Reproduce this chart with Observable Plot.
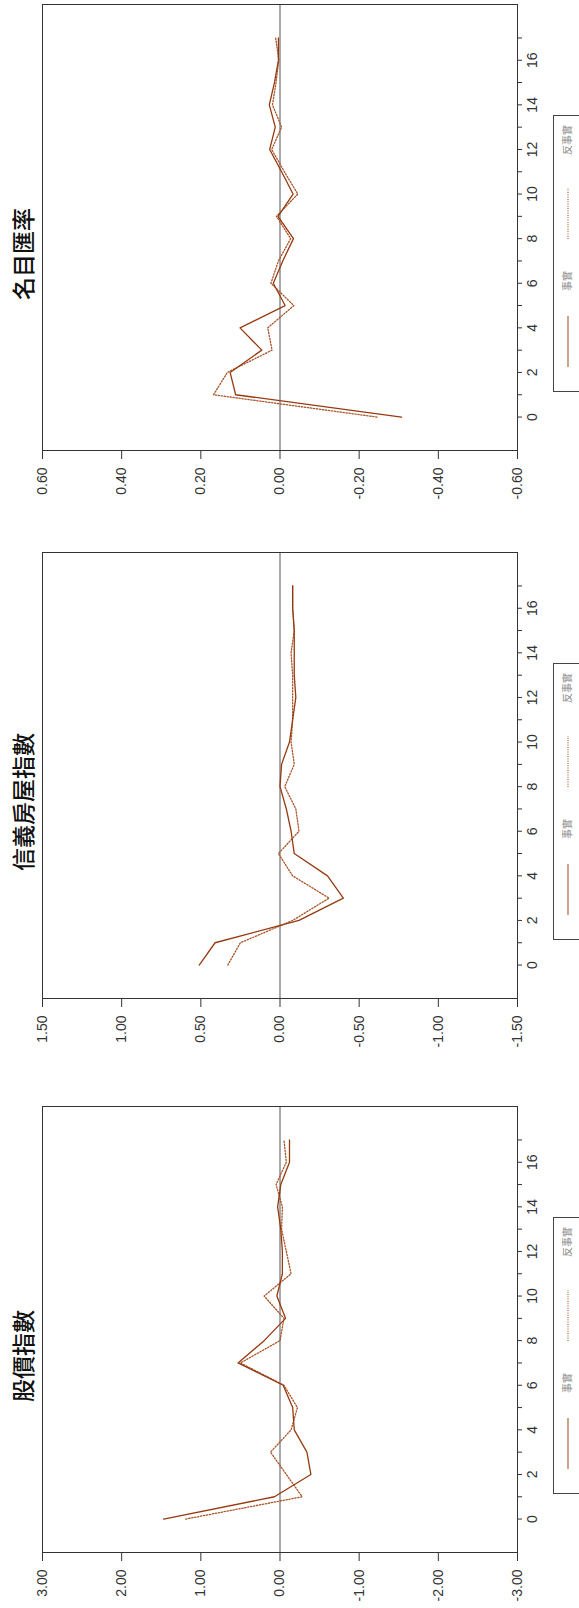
<!DOCTYPE html>
<html>
<head>
<meta charset="utf-8">
<script src="https://cdn.jsdelivr.net/npm/d3@7"></script>
<script src="https://cdn.jsdelivr.net/npm/@observablehq/plot@0.6"></script>
<style>
  html, body { margin: 0; padding: 0; background: #fff; overflow: hidden; width: 579px; height: 1608px; }
  #fig { position: absolute; left: 0; top: 0; width: 1608px; height: 579px; transform-origin: 0 0; transform: translate(0px, 1608px) rotate(-90deg); background: #fff; }
  .panel { position: absolute; top: 0; width: 554px; height: 579px; }
  .title { position: absolute; z-index: 2; top: 11px; width: 300px; text-align: center; font-family: "Noto Sans CJK TC", "Noto Sans CJK SC", sans-serif; font-size: 23px; line-height: 1; color: #111; font-weight: 500; }
  .legend { position: absolute; z-index: 2; top: 553px; width: 277px; height: 60px; border: 1px solid #444; background: #fff; box-sizing: border-box; }
  .legend span { position: absolute; top: 8px; font-family: "Noto Sans CJK TC", sans-serif; font-size: 10px; line-height: 1; color: #8a8a8a; font-weight: normal; }
  .legend svg { position: absolute; left: 0; top: 0; }
</style>
</head>
<body>
<div id="fig"></div>
<script>
// ---- data ----
const horizons = [0,1,2,3,4,5,6,7,8,9,10,11,12,13,14,15,16,17];

const titles = ["股價指數", "信義房屋指數", "名目匯率"];
const seriesNames = ["事實", "反事實"];

const stockActual  = [1.47, 0.07, -0.39, -0.34, -0.18, -0.16, -0.04, 0.53, 0.20, -0.07, 0.04, -0.03, -0.03, -0.01, 0.03, -0.01, -0.12, -0.12];
const stockCounter = [1.19, -0.28, -0.08, 0.12, -0.14, -0.22, -0.05, 0.50, 0.00, -0.05, 0.20, -0.14, -0.08, -0.02, -0.03, 0.05, -0.08, -0.05];

const houseActual  = [0.51, 0.41, -0.12, -0.40, -0.30, -0.09, -0.07, -0.04, 0.00, -0.01, -0.06, -0.08, -0.10, -0.09, -0.09, -0.09, -0.08, -0.08];
const houseCounter = [0.33, 0.25, -0.08, -0.31, -0.08, 0.01, -0.12, -0.10, -0.03, -0.09, -0.07, -0.08, -0.08, -0.08, -0.07, -0.09, -0.08, -0.08];

const fxActual  = [-0.307, 0.112, 0.126, 0.046, 0.101, -0.013, 0.017, -0.007, -0.034, 0.005, -0.033, -0.004, 0.026, 0.012, 0.027, 0.014, 0.004, 0.004];
const fxCounter = [-0.245, 0.168, 0.133, 0.020, 0.031, -0.035, 0.023, 0.004, -0.027, 0.009, -0.045, -0.011, 0.021, -0.004, 0.019, 0.010, 0.003, 0.011];

const stockTicks = [3, 2, 1, 0, -1, -2, -3];
const houseTicks = [1.5, 1, 0.5, 0, -0.5, -1, -1.5];
const fxTicks    = [0.6, 0.4, 0.2, 0, -0.2, -0.4, -0.6];

const xTicks = [0,1,2,3,4,5,6,7,8,9,10,11,12,13,14,15,16,17];
const xLabels = ["0","","2","","4","","6","","8","","10","","12","","14","","16",""];

// ---- build ----
const panels = [
  {title: titles[0], a: stockActual, c: stockCounter, ticks: stockTicks},
  {title: titles[1], a: houseActual, c: houseCounter, ticks: houseTicks},
  {title: titles[2], a: fxActual, c: fxCounter, ticks: fxTicks}
];
const offsets = [0, 554, 1102];
const solidColor = "#963a10";
const dotColor = "#a8532a";
const fig = document.getElementById("fig");

panels.forEach((p, i) => {
  const div = document.createElement("div");
  div.className = "panel";
  div.style.left = offsets[i] + "px";
  fig.appendChild(div);

  const rows = [];
  horizons.forEach((h, k) => {
    rows.push({h, v: p.a[k], s: seriesNames[0]});
    rows.push({h, v: p.c[k], s: seriesNames[1]});
  });
  const ymax = p.ticks[0], ymin = p.ticks[p.ticks.length - 1];

  const chart = Plot.plot({
    width: 511,
    height: 547,
    marginLeft: 55,
    marginRight: 10,
    marginTop: 42,
    marginBottom: 30,
    style: {fontFamily: "'Liberation Sans', Arial, sans-serif", fontSize: "14px", color: "#333", background: "transparent"},
    x: {domain: [-1.5, 18.5]},
    y: {domain: [ymin, ymax]},
    marks: [
      Plot.ruleY([0], {stroke: "#555", strokeWidth: 1}),
      Plot.line(rows.filter(d => d.s === seriesNames[1]), {x: "h", y: "v", stroke: dotColor, strokeWidth: 1.3, strokeDasharray: "1.3,1.7"}),
      Plot.line(rows.filter(d => d.s === seriesNames[0]), {x: "h", y: "v", stroke: solidColor, strokeWidth: 1.3}),
      Plot.frame({stroke: "#333", strokeWidth: 1}),
      Plot.axisX({ticks: xTicks, tickFormat: d => xLabels[xTicks.indexOf(d)], tickSize: 5, tickPadding: 5, fontSize: 14, stroke: "#333", label: null}),
      Plot.axisY({ticks: p.ticks, tickFormat: d => d.toFixed(2), tickSize: 8, tickPadding: 9, fontSize: 14, stroke: "#333", label: null})
    ]
  });
  chart.style.position = "absolute";
  chart.style.left = "0px";
  chart.style.top = "0px";
  div.appendChild(chart);

  const t = document.createElement("div");
  t.className = "title";
  t.textContent = p.title;
  t.style.left = (55 + 197 - 150) + "px";
  div.appendChild(t);

  const lg = document.createElement("div");
  lg.className = "legend";
  lg.style.left = (55 + 59) + "px";
  lg.innerHTML =
    `<svg width="277" height="40">
       <line x1="24" x2="75" y1="14" y2="14" stroke="#b8714c" stroke-width="1.3"/>
       <line x1="152" x2="203" y1="14" y2="14" stroke="#b8714c" stroke-width="1.3" stroke-dasharray="1,1.3"/>
     </svg>
     <span style="left:100px">${seriesNames[0]}</span>
     <span style="left:236px">${seriesNames[1]}</span>`;
  div.appendChild(lg);
});
</script>
</body>
</html>
